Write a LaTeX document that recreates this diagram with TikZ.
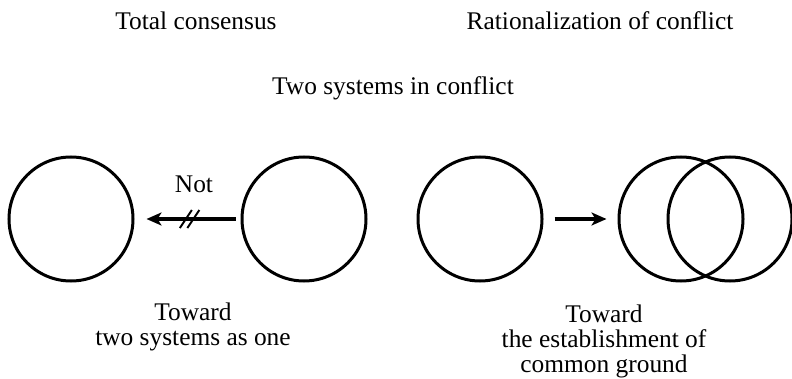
\documentclass[tikz,border=0pt]{standalone}
\usepackage{fontspec}
\setmainfont{Liberation Serif}
\usetikzlibrary{arrows.meta}
\begin{document}
\begin{tikzpicture}[x=0.5pt,y=-0.5pt,
  system/.style={circle,draw,line width=1.5pt,inner sep=0pt,minimum size=62pt},
  label/.style={font=\fontsize{12.7}{12.3}\selectfont,inner sep=0pt,anchor=base,align=center},
  conn/.style={line width=2pt,-{Stealth[length=7.5pt,width=6.5pt,inset=2pt]}},
  cutmark/.style={line width=1pt}]
\useasboundingbox (0,0) rectangle (792,379);

% headings
\node[label] (tc) at (196,30) {Total consensus};
\node[label] (rc) at (600,30) {Rationalization of conflict};
\node[label] (two) at (393,95) {Two systems in conflict};

% left pair: the systems do not merge
\node[system] (c1) at (71,219) {};
\node[system] (c2) at (304,219) {};
\draw[conn,shorten <=2.5pt,shorten >=6pt] (c2) -- coordinate[pos=0.48] (cut) (c1);
\draw[cutmark] ([shift={(-9.75,9)}]cut) -- ([shift={(2.25,-9)}]cut);
\draw[cutmark] ([shift={(-2.25,9)}]cut) -- ([shift={(9.75,-9)}]cut);
\node[label] (not) at (194,193) {Not};
% multi-line labels are placed by the baseline of their last line
\node[label] (tl) at (193,345) {Toward\\two systems as one};

% right pair: overlap as common ground
\node[system] (c3) at (480,219) {};
\node[system] (c4) at (681,219) {};
\node[system] (c5) at (730,219) {};
\draw[conn,shorten <=5.5pt,shorten >=5.5pt] (c3) -- (c4);
\node[label] (tr) at (604,372) {Toward\\the establishment of\\common ground};
\end{tikzpicture}
\end{document}
